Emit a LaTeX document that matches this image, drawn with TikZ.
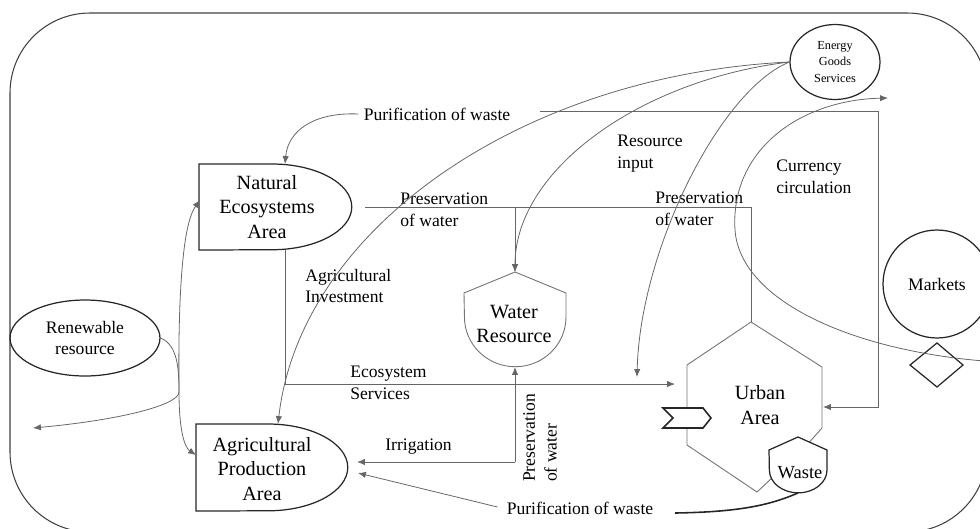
\documentclass[tikz,border=0pt]{standalone}
\usepackage{fontspec}
\setmainfont{Liberation Serif}
\usetikzlibrary{arrows.meta, shapes.geometric}

\tikzset{
  flow/.style={draw=black!60, line width=0.45pt},
  arr/.style={flow, -{Latex[length=4.5pt,width=3.6pt]}},
  area/.style={draw=black!85, line width=0.7pt, fill=white},
  grayarea/.style={draw=black!55, line width=0.5pt, fill=white},
  areatext/.style={align=center, inner sep=0pt, font=\fontsize{11.5}{14}\selectfont},
  lbl/.style={align=left, inner sep=0pt, font=\fontsize{10}{12.5}\selectfont},
  bubble/.style={ellipse, draw=black!85, line width=0.7pt, align=center, inner sep=0pt},
}

\begin{document}
\begin{tikzpicture}[x=0.02cm, y=-0.02cm]
\useasboundingbox (0,0) rectangle (980,528);
\clip (0,0) rectangle (980,528);

% system boundary
\draw[draw=black!75, line width=0.6pt, rounded corners=1.6cm] (10,13) rectangle (987,532);

% areas
\draw[area] (199,164) -- (272,164) arc[start angle=90, end angle=-90, x radius=45.4pt, y radius=24.4pt] -- (199,250) -- cycle;
\node[areatext] (nat) at (267,207) {Natural\\Ecosystems\\Area};
\coordinate (nat-n) at (285,164);
\coordinate (nat-w) at (200,200);
\coordinate (nat-e) at (365,207);
\coordinate (nat-s) at (285,250);

\draw[area] (196,424) -- (268,424) arc[start angle=90, end angle=-90, x radius=45.4pt, y radius=24.7pt] -- (196,511) -- cycle;
\node[areatext] (agri) at (262,469) {Agricultural\\Production\\Area};
\coordinate (agri-n) at (278,424);
\coordinate (agri-w) at (196,455);
\coordinate (agri-e1) at (357,462);
\coordinate (agri-e2) at (358,473);

\draw[grayarea] (515,272) -- (566,293) -- (566,317) arc[start angle=0, end angle=-180, x radius=28.9pt, y radius=28.3pt] -- (464,293) -- cycle;
\node[areatext] (water) at (514,324) {Water\\Resource};
\coordinate (water-n) at (515,272);
\coordinate (water-s) at (515,367);

\draw[grayarea] (751,322) -- (822,367) -- (822,428) -- (806,446) -- (757,492) -- (687,445) -- (687,365) -- cycle;
\node[areatext] (urban) at (760,405) {Urban\\Area};
\coordinate (urban-n) at (751,322);
\coordinate (urban-w) at (675,384);
\coordinate (urban-e) at (823,407);

\draw[area, line width=0.9pt] (663,408) -- (703,408) -- (711,418) -- (703,428) -- (663,428) -- (673,418) -- cycle;

\draw[area] (798,437) -- (827,450) -- (827,470) arc[start angle=0, end angle=-180, x radius=16.4pt, y radius=13pt] -- (769,450) -- cycle;
\node[areatext, font=\fontsize{10.5}{12}\selectfont] (waste) at (800,473) {Waste};
\coordinate (waste-s) at (798,493);

\node[circle, draw=black!85, line width=0.7pt, minimum size=2.16cm, inner sep=0pt, font=\fontsize{10}{12}\selectfont] (mkt) at (937,284) {Markets};
\draw[draw=black!85, line width=0.7pt] (937,343) -- (963,365) -- (937,387) -- (910,365) -- cycle;

\node[bubble, minimum width=3cm, minimum height=1.52cm, font=\fontsize{10}{12.5}\selectfont] (ren) at (85,338) {Renewable\\resource};
\node[bubble, minimum width=1.8cm, minimum height=1.5cm, font=\fontsize{7}{9.6}\selectfont] (egs) at (835,62) {Energy\\Goods\\Services};

% labels
\node[lbl] (purif1) at (437,114) {Purification of waste};
\node[lbl] (purif2) at (580,508) {Purification of waste};
\node[lbl, anchor=west] (presw1) at (400,210) {Preservation\\of water};
\node[lbl, anchor=west] (presw2) at (655,209) {Preservation\\of water};
\node[lbl, rotate=90] (presw3) at (540,438) {Preservation\\of water};
\node[lbl, anchor=west] (resin) at (617,154) {Resource\\input};
\node[lbl, anchor=west] (curr) at (776,177) {Currency\\circulation};
\node[lbl, anchor=west] (agrinv) at (305,286) {Agricultural\\Investment};
\node[lbl, anchor=west] (ecosvc) at (350,383) {Ecosystem\\Services};
\node[lbl, anchor=west] (irrig) at (385,447) {Irrigation};

% flows
\coordinate (purif-start) at (540,111);
\coordinate (purif-turn) at (878,407);
\draw[arr] (purif1.west) ++(-5,0) .. controls (315,112) and (288,130) .. (nat-n);
\draw[arr] (purif-start) -| (purif-turn) -- (urban-e);

\coordinate (pres-corner) at (751,207);
\draw[flow] (nat-e) -- (pres-corner) -- (urban-n);
\draw[arr] (water-n |- nat-e) -- (water-n);

\coordinate (res-in) at (637,377);
\draw[arr] (egs.west) .. controls (520,75) and (300,230) .. (agri-n);
\draw[arr] (egs.west) .. controls (640,80) and (515,170) .. (water-n);
\draw[arr] (egs.west) .. controls (720,90) and (640,250) .. (res-in);

\coordinate (cur-start) at (984,361);
\coordinate (cur-end) at (888,98);
\draw[arr] (cur-start) .. controls (850,350) and (740,300) .. (735,230) .. controls (730,150) and (800,100) .. (cur-end);

\draw[arr] (nat-s) |- (urban-w);

\coordinate (irr-corner) at (515,462);
\draw[arr] (irr-corner) -- (agri-e1);
\draw[arr] (irr-corner) -- (water-s);

\coordinate (purif-end) at (675,513);
\draw[arr] (purif2.west) ++(-9,-1) -- (agri-e2);
\draw[draw=black!85, line width=0.9pt] (purif-end) .. controls (740,512) and (770,505) .. (waste-s);

\coordinate (left-join) at (179,392);
\coordinate (left-out) at (33,428);
\draw[arr] (ren.east) .. controls (178,345) and (179,370) .. (left-join) .. controls (179,428) and (184,447) .. (agri-w);
\draw[arr] (left-join) .. controls (178,300) and (182,225) .. (nat-w);
\draw[arr] (left-join) .. controls (179,405) and (120,420) .. (left-out);
\end{tikzpicture}
\end{document}
